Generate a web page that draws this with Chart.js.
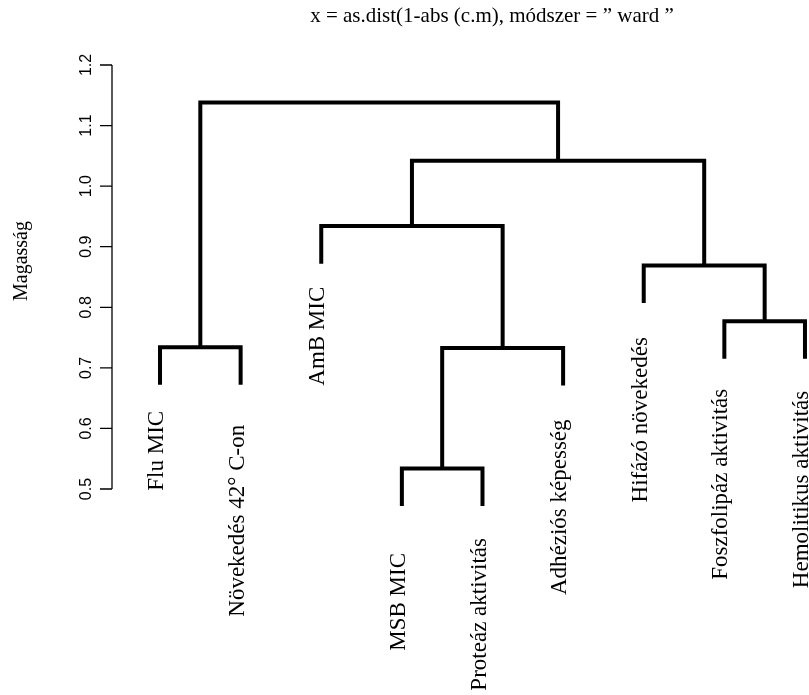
<!DOCTYPE html>
<html>
<head>
<meta charset="utf-8">
<script src="https://cdn.jsdelivr.net/npm/chart.js@4.4.0/dist/chart.umd.min.js"></script>
<style>
  html, body { margin: 0; padding: 0; background: #fff; }
  #dendro { display: block; }
</style>
</head>
<body>
<canvas id="dendro" width="809" height="695"></canvas>
<script>
"use strict";
// leaves in plotted order
const leafLabels = ["Flu MIC", "Növekedés 42° C-on", "AmB MIC", "MSB MIC", "Proteáz aktivitás",
    "Adhéziós képesség", "Hifázó növekedés", "Foszfolipáz aktivitás", "Hemolitikus aktivitás"];
// hclust-style merges: negative = leaf (1-based, plotted order), positive = earlier merge
const mergeLeft = [-4, 1, -1, -8, -7, -3, 6, 3];
const mergeRight = [-5, -6, -2, -9, 4, 2, 5, 7];
const mergeHeight = [0.534, 0.733, 0.734, 0.777, 0.869, 0.934, 1.042, 1.138];
const leafHang = 0.062;
const yTicks = [0.5, 0.6, 0.7, 0.8, 0.9, 1.0, 1.1, 1.2];
const titleText = "x = as.dist(1-abs (c.m), módszer = ” ward ”";
const yTitle = "Magasság";

// label placement (pixels below leaf end)
const labelGap = [26, 40, 23, 47, 32, 34, 34, 30, 32];

// work out x position and hanging height of every node
const mergeX = [];
const leafTop = new Array(leafLabels.length).fill(0);
function nodeX(id) {
    return id < 0 ? -id : mergeX[id - 1];
}
function nodeTop(id, parentH) {
    if (id < 0) {
        leafTop[-id - 1] = parentH - leafHang;
        return parentH - leafHang;
    }
    return mergeHeight[id - 1];
}
const segments = [];
for (let i = 0; i < mergeHeight.length; i++) {
    const h = mergeHeight[i];
    const xa = nodeX(mergeLeft[i]);
    const xb = nodeX(mergeRight[i]);
    mergeX.push((xa + xb) / 2);
    segments.push({
        data: [
            { x: xa, y: nodeTop(mergeLeft[i], h) },
            { x: xa, y: h },
            { x: xb, y: h },
            { x: xb, y: nodeTop(mergeRight[i], h) },
        ],
        showLine: true,
        borderColor: "#000",
        borderWidth: 4,
        borderCapStyle: "butt",
        borderJoinStyle: "miter",
        pointRadius: 0,
        tension: 0,
        clip: false,
    });
}

const extras = {
    id: "extras",
    afterDraw(chart) {
        const ctx = chart.ctx;
        const xs = chart.scales.x;
        const ys = chart.scales.y;
        ctx.save();
        ctx.fillStyle = "#000";
        ctx.strokeStyle = "#000";

        // y axis
        const axX = 112;
        ctx.lineWidth = 1.3;
        ctx.beginPath();
        ctx.moveTo(axX, ys.getPixelForValue(yTicks[0]));
        ctx.lineTo(axX, ys.getPixelForValue(yTicks[yTicks.length - 1]));
        yTicks.forEach(t => {
            const py = ys.getPixelForValue(t);
            ctx.moveTo(axX, py);
            ctx.lineTo(axX - 12, py);
        });
        ctx.stroke();
        ctx.font = "16px 'Liberation Sans'";
        ctx.textAlign = "center";
        ctx.textBaseline = "middle";
        yTicks.forEach(t => {
            const py = ys.getPixelForValue(t);
            ctx.save();
            ctx.translate(87, py);
            ctx.rotate(-Math.PI / 2);
            ctx.fillText(t.toFixed(1), 0, 0);
            ctx.restore();
        });

        // axis title
        ctx.save();
        ctx.font = "20px 'Liberation Serif'";
        ctx.translate(22, 261);
        ctx.rotate(-Math.PI / 2);
        ctx.fillText(yTitle, 0, 0);
        ctx.restore();

        // main title
        ctx.font = "21px 'Liberation Serif'";
        ctx.fillText(titleText, 492, 16);

        // leaf labels
        ctx.font = "23px 'Liberation Serif'";
        ctx.textAlign = "right";
        leafLabels.forEach((lab, i) => {
            const px = xs.getPixelForValue(i + 1) - 3;
            const py = ys.getPixelForValue(leafTop[i]) + labelGap[i];
            ctx.save();
            ctx.translate(px, py);
            ctx.rotate(-Math.PI / 2);
            ctx.fillText(lab, 0, 0);
            ctx.restore();
        });
        ctx.restore();
    },
};

new Chart(document.querySelector("#dendro"), {
    type: "scatter",
    data: { datasets: segments },
    options: {
        responsive: false,
        animation: false,
        events: [],
        layout: { padding: { left: 119.7, right: 0, top: 34.7, bottom: 145.4 } },
        plugins: { legend: { display: false }, tooltip: { enabled: false } },
        scales: {
            x: { type: "linear", min: 0.5, max: 9.05, display: false },
            y: { type: "linear", min: 0.4, max: 1.25, display: false },
        },
    },
    plugins: [extras],
});
</script>
</body>
</html>
